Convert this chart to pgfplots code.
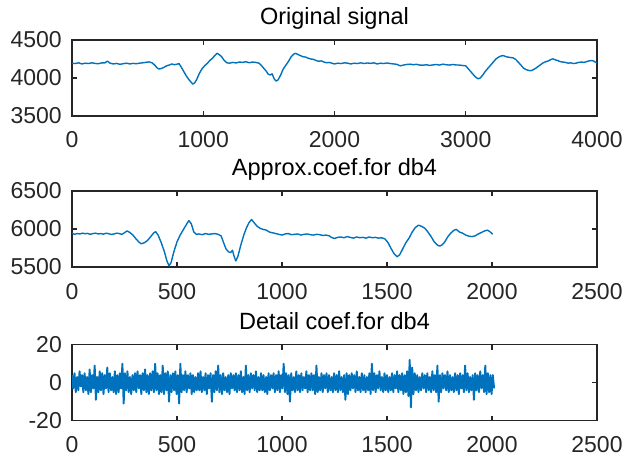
\documentclass[border=0pt]{standalone}
\usepackage{fontspec}
\setmainfont{Liberation Sans}
\usepackage{pgfplots}
\pgfplotsset{compat=1.18}
\definecolor{mblue}{RGB}{0,114,189}
\definecolor{axgray}{RGB}{38,38,38}
\pgfplotsset{
  mstyle/.style={
    scale only axis, width=525pt, height=76pt, anchor=south west,
    axis line style={axgray, line width=1.1pt},
    every tick/.style={axgray, line width=1.1pt},
    tick align=inside, xtick pos=both, ytick pos=both,
    major tick length=5pt,
    ticklabel style={text=axgray, font=\fontsize{23}{28}\selectfont},
    xticklabel style={anchor=base, inner sep=0pt, yshift=-32pt},
    yticklabel style={anchor=east, inner sep=0pt, xshift=-10pt},
    title style={at={(0.5,1)}, anchor=base, yshift=9.5pt, inner sep=0pt, text=black, font=\fontsize{23.5}{28}\selectfont},
  },
  sig/.style={mblue, line width=1.4pt, line join=round, no marks},
}
\begin{document}
\begin{tikzpicture}
\begin{axis}[mstyle, at={(72pt,339pt)},
  xmin=0, xmax=4000, ymin=3500, ymax=4500,
  xtick={0,1000,2000,3000,4000}, xticklabels={0,1000,2000,3000,4000},
  ytick={3500,4000,4500}, yticklabels={3500,4000,4500},
  title={Original signal}]
\addplot[sig] coordinates {
(0,4195)(25,4190)(50,4200)(75,4185)(100,4195)(125,4190)(150,4200)(175,4192)(200,4188)(225,4198)
(250,4200)(270,4222)(290,4195)(315,4185)(340,4192)(365,4180)(390,4188)(415,4195)(440,4185)(465,4192)
(490,4188)(515,4195)(540,4200)(560,4205)(585,4212)(610,4200)(630,4170)(650,4130)(665,4118)(680,4125)
(700,4140)(720,4160)(740,4170)(760,4185)(780,4175)(800,4182)(815,4190)(830,4150)(850,4090)(870,4030)
(890,3980)(905,3950)(920,3920)(935,3935)(950,3980)(970,4060)(990,4120)(1010,4160)(1030,4190)(1050,4230)
(1070,4260)(1090,4300)(1105,4325)(1120,4310)(1140,4280)(1160,4230)(1180,4200)(1200,4195)(1225,4205)(1250,4198)
(1275,4210)(1300,4205)(1325,4215)(1350,4200)(1375,4210)(1400,4205)(1425,4195)(1445,4160)(1465,4120)(1480,4090)
(1495,4050)(1510,4040)(1525,4055)(1540,3990)(1555,3960)(1570,3975)(1590,4040)(1610,4120)(1630,4170)(1650,4220)
(1670,4280)(1690,4315)(1705,4325)(1720,4310)(1740,4295)(1760,4280)(1780,4275)(1800,4260)(1820,4250)(1840,4245)
(1860,4230)(1880,4220)(1900,4225)(1920,4210)(1940,4200)(1960,4205)(1980,4195)(2000,4185)(2025,4195)(2050,4190)
(2075,4200)(2100,4195)(2125,4185)(2150,4195)(2175,4190)(2200,4200)(2225,4190)(2250,4198)(2275,4192)(2300,4200)
(2325,4185)(2350,4195)(2375,4190)(2400,4198)(2425,4190)(2450,4185)(2475,4180)(2500,4160)(2525,4170)(2550,4178)
(2575,4182)(2600,4175)(2625,4180)(2650,4170)(2675,4168)(2700,4175)(2725,4165)(2750,4172)(2775,4178)(2800,4170)
(2825,4182)(2850,4175)(2875,4170)(2900,4178)(2925,4172)(2950,4170)(2975,4165)(3000,4160)(3020,4120)(3040,4080)
(3060,4040)(3080,4005)(3095,3990)(3110,4000)(3130,4040)(3150,4090)(3170,4130)(3190,4170)(3210,4210)(3230,4250)
(3250,4275)(3270,4290)(3285,4295)(3300,4285)(3320,4275)(3340,4270)(3360,4265)(3380,4245)(3400,4210)(3420,4170)
(3440,4130)(3460,4110)(3480,4100)(3495,4095)(3510,4105)(3530,4125)(3550,4150)(3570,4175)(3590,4200)(3610,4215)
(3630,4225)(3650,4245)(3665,4252)(3680,4240)(3700,4230)(3720,4215)(3740,4210)(3760,4205)(3780,4195)(3800,4200)
(3820,4190)(3840,4195)(3860,4205)(3880,4210)(3900,4205)(3920,4215)(3940,4225)(3960,4230)(3975,4222)(3990,4205)
(4000,4200)
};
\end{axis}
\begin{axis}[mstyle, at={(72pt,188pt)},
  xmin=0, xmax=2500, ymin=5500, ymax=6500,
  xtick={0,500,1000,1500,2000,2500}, xticklabels={0,500,1000,1500,2000,2500},
  ytick={5500,6000,6500}, yticklabels={5500,6000,6500},
  title={Approx.coef.for db4}]
\addplot[sig] coordinates {
(0,5945)(12,5930)(25,5940)(37,5935)(50,5945)(62,5938)(75,5942)(87,5930)(100,5940)(112,5945)
(125,5935)(137,5940)(150,5932)(162,5945)(175,5938)(187,5928)(200,5935)(212,5945)(225,5940)(237,5930)
(250,5950)(262,5975)(275,5955)(290,5920)(305,5870)(318,5830)(330,5805)(345,5820)(360,5850)(375,5900)
(388,5945)(398,5965)(410,5920)(425,5820)(440,5700)(452,5580)(462,5515)(472,5560)(485,5700)(500,5830)
(515,5920)(530,5990)(545,6060)(556,6110)(568,6070)(580,5960)(592,5930)(605,5935)(620,5925)(635,5940)
(650,5930)(665,5935)(680,5940)(695,5930)(710,5910)(722,5820)(733,5740)(745,5700)(755,5690)(764,5720)
(772,5640)(780,5580)(790,5640)(805,5800)(818,5920)(830,6010)(842,6080)(855,6125)(868,6080)(880,6040)
(895,6010)(910,5995)(925,5985)(940,5960)(955,5950)(970,5940)(985,5930)(1000,5920)(1015,5935)(1030,5940)
(1045,5925)(1060,5930)(1075,5935)(1090,5920)(1105,5930)(1120,5935)(1135,5925)(1150,5920)(1165,5930)(1180,5925)
(1195,5915)(1210,5920)(1225,5910)(1235,5890)(1250,5875)(1265,5890)(1280,5895)(1295,5885)(1310,5900)(1325,5890)
(1340,5880)(1355,5895)(1370,5885)(1385,5890)(1400,5880)(1415,5895)(1430,5885)(1445,5890)(1460,5880)(1475,5885)
(1490,5870)(1505,5820)(1520,5740)(1535,5670)(1548,5635)(1560,5660)(1575,5740)(1590,5820)(1605,5880)(1620,5960)
(1635,6020)(1650,6050)(1665,6035)(1680,6010)(1695,5960)(1710,5900)(1725,5830)(1740,5790)(1750,5775)(1762,5790)
(1775,5830)(1790,5900)(1805,5950)(1820,5985)(1830,5995)(1845,5960)(1860,5945)(1875,5920)(1890,5905)(1905,5900)
(1920,5910)(1935,5935)(1950,5955)(1965,5975)(1978,5985)(1990,5965)(2003,5930)
};
\end{axis}
\begin{axis}[mstyle, at={(72pt,34.3pt)},
  xmin=0, xmax=2500, ymin=-20, ymax=20,
  xtick={0,500,1000,1500,2000,2500}, xticklabels={0,500,1000,1500,2000,2500},
  ytick={-20,0,20}, yticklabels={-20,0,20},
  title={Detail coef.for db4}]
\addplot[sig, line width=1.9pt] coordinates {
(0,4)(6,-3)(12,5)(18,-5)(24,3)(30,-4)(36,6)(42,-2)(48,4)(54,-5)
(60,5)(66,-4)(72,3)(78,-6)(84,7)(90,-5)(96,4)(102,-3)(108,9)(114,-9)
(120,3)(126,-5)(132,6)(138,-4)(144,5)(150,-6)(156,4)(162,-3)(168,8)(174,-5)
(180,5)(186,-4)(192,3)(198,-5)(204,6)(210,-6)(216,4)(222,-5)(228,5)(234,-3)
(240,10)(246,-11)(252,5)(258,-4)(264,6)(270,-5)(276,3)(282,-6)(288,4)(294,-4)
(300,5)(306,-5)(312,6)(318,-3)(324,4)(330,-6)(336,5)(342,-4)(348,7)(354,-5)
(360,4)(366,-6)(372,5)(378,-4)(384,6)(390,-5)(396,10)(402,-4)(408,5)(414,-6)
(420,4)(426,-5)(432,9)(438,-6)(444,5)(450,-4)(456,6)(462,-10)(468,4)(474,-5)
(480,5)(486,-4)(492,6)(498,-6)(504,4)(510,-11)(516,10)(522,-5)(528,4)(534,-4)
(540,6)(546,-5)(552,4)(558,-3)(564,5)(570,-6)(576,4)(582,-5)(588,3)(594,-4)
(600,5)(606,-4)(612,6)(618,-5)(624,3)(630,-4)(636,5)(642,-6)(648,4)(654,-3)
(660,5)(666,-10)(672,4)(678,-5)(684,6)(690,-4)(696,9)(702,-5)(708,4)(714,-6)
(720,5)(726,-4)(732,3)(738,-5)(744,4)(750,-6)(756,5)(762,-3)(768,4)(774,-4)
(780,5)(786,-5)(792,4)(798,-4)(804,6)(810,-5)(816,3)(822,-6)(828,9)(834,-4)
(840,4)(846,-5)(852,5)(858,-3)(864,4)(870,-4)(876,6)(882,-5)(888,3)(894,-4)
(900,5)(906,-4)(912,4)(918,-5)(924,3)(930,-6)(936,5)(942,-4)(948,4)(954,-3)
(960,5)(966,-5)(972,4)(978,-4)(984,6)(990,-5)(996,4)(1002,-3)(1008,10)(1014,-5)
(1020,5)(1026,-6)(1032,4)(1038,-10)(1044,5)(1050,-4)(1056,3)(1062,-5)(1068,6)(1074,-4)
(1080,4)(1086,-5)(1092,5)(1098,-4)(1104,3)(1110,-3)(1116,6)(1122,-5)(1128,4)(1134,-4)
(1140,5)(1146,-4)(1152,4)(1158,-6)(1164,9)(1170,-5)(1176,3)(1182,-4)(1188,5)(1194,-5)
(1200,4)(1206,-3)(1212,5)(1218,-5)(1224,4)(1230,-4)(1236,3)(1242,-5)(1248,5)(1254,-4)
(1260,4)(1266,-5)(1272,6)(1278,-4)(1284,3)(1290,-5)(1296,4)(1302,-9)(1308,5)(1314,-6)
(1320,4)(1326,-4)(1332,5)(1338,-3)(1344,4)(1350,-5)(1356,6)(1362,-4)(1368,3)(1374,-5)
(1380,5)(1386,-4)(1392,4)(1398,-5)(1404,3)(1410,-4)(1416,5)(1422,-6)(1428,10)(1434,-4)
(1440,5)(1446,-5)(1452,4)(1458,-3)(1464,6)(1470,-4)(1476,3)(1482,-5)(1488,5)(1494,-4)
(1500,4)(1506,-5)(1512,3)(1518,-4)(1524,5)(1530,-5)(1536,4)(1542,-3)(1548,6)(1554,-5)
(1560,4)(1566,-4)(1572,5)(1578,-6)(1584,4)(1590,-5)(1596,6)(1602,-7)(1608,12)(1614,-13)
(1620,8)(1626,-6)(1632,5)(1638,-4)(1644,4)(1650,-5)(1656,3)(1662,-4)(1668,5)(1674,-3)
(1680,4)(1686,-5)(1692,5)(1698,-4)(1704,3)(1710,-5)(1716,6)(1722,-4)(1728,4)(1734,-5)
(1740,9)(1746,-10)(1752,4)(1758,-5)(1764,5)(1770,-3)(1776,4)(1782,-4)(1788,6)(1794,-5)
(1800,4)(1806,-4)(1812,3)(1818,-5)(1824,5)(1830,-4)(1836,4)(1842,-6)(1848,5)(1854,-3)
(1860,4)(1866,-5)(1872,9)(1878,-4)(1884,5)(1890,-5)(1896,3)(1902,-4)(1908,4)(1914,-9)
(1920,5)(1926,-4)(1932,4)(1938,-5)(1944,6)(1950,-3)(1956,4)(1962,-5)(1968,9)(1974,-6)
(1980,5)(1986,-5)(1992,4)(1998,-6)(2004,4)(2010,-3)
};
\end{axis}
\pgfresetboundingbox
\path[use as bounding box] (0pt,-3pt) rectangle (626pt,455pt);
\end{tikzpicture}
\end{document}
